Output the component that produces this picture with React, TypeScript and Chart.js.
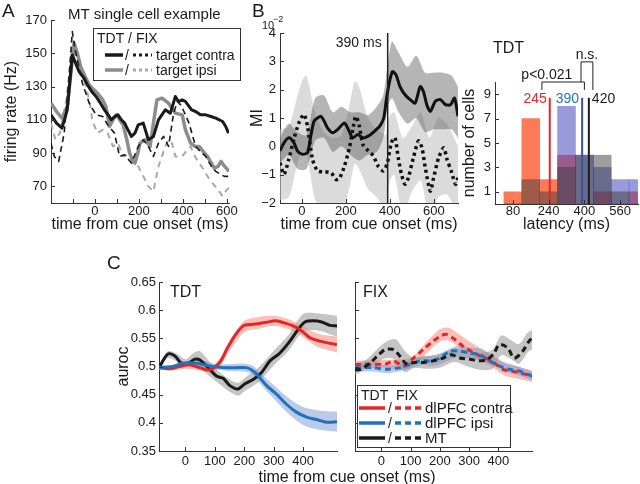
import React, { useEffect, useRef } from 'react';
import { Chart, registerables } from 'chart.js';
Chart.register(...registerables);

const FONT = '"Liberation Sans", Arial, Helvetica, sans-serif';
const TICK_SIZE = 13;
const TITLE_SIZE = 16;
const INK = '#1a1a1a';
const AXIS = '#333333';
const RED = '#e3262a';
const BLUE = '#1f73b8';
const GRAY_A = '#8c8c8c';
const GRAY_A_DASH = '#a8a8a8';

// ---------------- Panel A : MT single cell example ----------------
const aXTicks = [0, 200, 400, 600];
const aXMinor = [-100, 100, 300, 500];
const aYTicks = [70, 90, 110, 130, 150, 170];
const aLegendLabels = ['target contra', 'target ipsi'];

const aContraTdtT = [-200, -175, -150, -126, -103, -85, -72, -50, -34, -15, 5, 25, 43, 60, 74, 90, 105, 120, 135, 150, 166, 182, 197, 220, 243, 266, 289, 320, 343, 366, 380, 397, 412, 440, 458, 480, 504, 528, 550, 581, 595, 608];
const aContraTdtV = [113, 108, 105, 116, 149, 143, 139, 135, 131, 127, 124, 120, 116, 113, 110, 112, 113, 110, 108, 104, 100, 102, 107, 108, 98, 100, 110, 116, 114, 124, 121, 122, 121, 116, 115, 113, 113, 112, 111, 109, 106, 102];

const aIpsiTdtT = [-200, -175, -150, -126, -95, -80, -65, -45, -26, -5, 12, 35, 50, 66, 82, 97, 113, 128, 145, 158, 170, 182, 195, 205, 228, 251, 266, 282, 305, 335, 366, 397, 412, 435, 455, 474, 492, 512, 530, 543, 560, 574, 590, 604, 610];
const aIpsiTdtV = [120, 115, 111, 118, 156, 150, 142, 136, 131, 128, 126, 122, 118, 106, 110, 113, 110, 107, 98, 90, 86, 84, 90, 96, 98, 94, 108, 122, 123, 120, 114, 113, 104, 96, 94, 94, 91, 88, 84, 81, 82, 85, 82, 80, 79];

const aContraFixT = [-200, -185, -165, -140, -120, -103, -90, -57, -26, 5, 35, 58, 89, 112, 135, 166, 197, 220, 243, 266, 289, 312, 335, 358, 375, 390, 405, 428, 458, 480, 504, 530, 550, 575, 589, 610];
const aContraFixV = [96, 88, 85, 102, 132, 163, 152, 132, 120, 113, 112, 107, 102, 88, 89, 84, 94, 98, 94, 88, 96, 100, 94, 114, 121, 119, 115, 108, 94, 91, 88, 82, 79, 77, 76, 76];

const aIpsiFixT = [-200, -180, -160, -130, -105, -80, -49, -26, -11, 12, 35, 58, 82, 105, 128, 151, 174, 197, 220, 243, 266, 289, 320, 335, 350, 366, 397, 420, 435, 455, 474, 495, 512, 535, 560, 581, 600, 610];
const aIpsiFixV = [108, 98, 102, 122, 152, 147, 134, 122, 109, 102, 104, 102, 94, 96, 88, 89, 84, 82, 76, 70, 67, 82, 94, 98, 96, 88, 88, 92, 94, 88, 84, 80, 76, 72, 68, 64, 68, 69];

// ---------------- Panel B : MI ----------------
const bXTicks = [0, 200, 400, 600];
const bYTicks = [-2, -1, 0, 1, 2, 3, 4];
const bOnset = 390;

const bSolidT = [-100, -82, -60, -37, -21, 1, 25, 40, 55, 71, 86, 101, 116, 139, 163, 193, 208, 231, 254, 277, 301, 331, 354, 372, 384, 397, 412, 428, 446, 469, 492, 515, 538, 553, 568, 584, 607, 630, 653, 676, 694, 710];
const bSolidV = [-0.16, 0.12, 0.3, 0.13, -0.16, -0.28, -0.22, 0.36, 0.89, 1.0, 1.06, 0.89, 0.65, 0.48, 0.6, 0.82, 0.65, 0.3, 0.42, 0.3, 0.36, 0.54, 0.71, 1.0, 1.65, 2.23, 2.64, 2.52, 2.11, 1.82, 1.65, 1.53, 2.11, 1.93, 1.47, 1.23, 1.59, 1.65, 1.47, 1.47, 1.7, 1.06];

const bDotT = [-100, -82, -60, -37, -14, 9, 25, 48, 71, 94, 132, 155, 170, 193, 216, 234, 246, 261, 277, 301, 324, 347, 370, 388, 407, 423, 438, 453, 469, 484, 507, 530, 546, 561, 584, 599, 622, 645, 660, 679, 699, 710];
const bDotV = [-0.58, -0.99, -0.46, 0.25, 0.83, 1.13, 0.71, -0.46, -0.87, -0.9, -0.93, -1.17, -1.14, -0.7, -0.05, 0.71, 1.06, 0.71, 0.07, -0.16, -0.33, -0.7, -0.87, -0.6, 0.13, 0.31, -0.4, -0.99, -1.34, -1.11, -0.4, 0.19, -0.05, -0.75, -1.58, -1.11, -0.4, -0.05, -0.46, -0.87, -1.34, -1.11];

const bDarkT = [-100, -60, -20, 20, 60, 100, 140, 180, 220, 260, 300, 340, 370, 390, 410, 440, 480, 520, 560, 600, 640, 680, 710];
const bDarkHi = [0.3, 0.8, 0.5, 0.4, 1.7, 1.8, 1.2, 1.4, 1.2, 1.2, 1.1, 1.4, 1.8, 2.9, 3.7, 3.3, 2.8, 3.2, 2.6, 2.6, 2.6, 2.5, 2.1];
const bDarkLo = [-0.6, -0.3, -0.8, -0.8, 0.2, 0.3, -0.2, 0.0, -0.3, -0.5, -0.3, -0.2, 0.3, 1.4, 1.7, 1.2, 0.8, 1.0, 0.5, 0.6, 0.6, 0.6, 0.3];

const bLightT = [-100, -60, -20, 0, 20, 60, 100, 140, 180, 220, 240, 260, 300, 340, 380, 400, 420, 460, 500, 540, 580, 620, 660, 710];
const bLightHi = [0.6, 0.7, 1.8, 2.3, 2.5, 1.2, 0.5, 0.3, 0.4, 1.6, 2.3, 2.1, 1.0, 0.6, 0.4, 1.1, 1.2, 0.3, 0.7, 1.2, 0.3, 1.0, 0.8, 0.0];
const bLightLo = [-1.9, -1.8, -0.6, -0.2, -0.2, -1.9, -2.3, -2.4, -2.4, -1.3, -0.6, -0.8, -1.5, -1.8, -2.2, -1.2, -1.0, -2.4, -1.6, -1.2, -2.5, -1.8, -1.7, -2.4];

// ---------------- Panel B : latency histogram ----------------
const hXTicks = [80, 240, 400, 560];
const hYTicks = [1, 3, 5, 7, 9];
const hBins = [80, 160, 240, 320, 400, 480, 560, 640];
const hRed = [1, 7, 2, 4, 0, 1, 0, 1];
const hBlue = [0, 0, 0, 8, 4, 3, 2, 2];
const hGray = [0, 2, 1, 3, 4, 4, 1, 0];
const hLatencies = [245, 390, 420];
const hLatencyLabels = ['245', '390', '420'];

// ---------------- Panel C : auroc ----------------
const cXTicks = [0, 100, 200, 300, 400];
const cYTicks = [0.35, 0.4, 0.45, 0.5, 0.55, 0.6, 0.65];
const cLegendLabels = ['dlPFC contra', 'dlPFC ipsi', 'MT'];

const cTdtRedT = [-90, -55, -21, 14, 48, 82, 116, 144, 167, 196, 230, 270, 309, 338, 366, 395, 423, 457, 491, 515];
const cTdtRedV = [0.498, 0.496, 0.5, 0.503, 0.498, 0.494, 0.507, 0.534, 0.554, 0.572, 0.575, 0.578, 0.581, 0.577, 0.572, 0.563, 0.551, 0.545, 0.541, 0.539];
const cTdtBlackT = [-90, -60, -37, -14, 9, 32, 48, 77, 105, 128, 151, 178, 201, 230, 258, 287, 321, 355, 383, 406, 434, 463, 491, 515];
const cTdtBlackV = [0.498, 0.522, 0.519, 0.506, 0.506, 0.513, 0.512, 0.498, 0.483, 0.479, 0.466, 0.46, 0.469, 0.477, 0.489, 0.51, 0.524, 0.545, 0.566, 0.579, 0.581, 0.579, 0.573, 0.572];
const cTdtBlueT = [-90, -43, -9, 36, 82, 128, 173, 207, 230, 253, 276, 309, 343, 377, 412, 446, 480, 515];
const cTdtBlueV = [0.498, 0.5, 0.506, 0.506, 0.501, 0.498, 0.498, 0.498, 0.492, 0.48, 0.466, 0.451, 0.433, 0.419, 0.41, 0.406, 0.401, 0.402];

const cTdtRedBandT = [-90, -40, 0, 50, 100, 150, 200, 250, 300, 350, 400, 450, 515];
const cTdtRedHi = [0.502, 0.501, 0.506, 0.505, 0.504, 0.546, 0.581, 0.588, 0.59, 0.584, 0.572, 0.558, 0.553];
const cTdtRedLo = [0.494, 0.493, 0.496, 0.493, 0.49, 0.528, 0.561, 0.567, 0.572, 0.566, 0.552, 0.534, 0.525];
const cTdtBlackBandT = [-90, -60, -30, 0, 30, 50, 100, 150, 180, 200, 250, 300, 350, 400, 450, 515];
const cTdtBlackHi = [0.503, 0.527, 0.523, 0.513, 0.525, 0.527, 0.497, 0.477, 0.471, 0.479, 0.499, 0.528, 0.556, 0.593, 0.594, 0.59];
const cTdtBlackLo = [0.493, 0.515, 0.509, 0.499, 0.501, 0.496, 0.475, 0.455, 0.448, 0.456, 0.473, 0.502, 0.528, 0.562, 0.564, 0.553];
const cTdtBlueBandT = [-90, -40, 0, 50, 100, 150, 200, 230, 260, 300, 350, 400, 450, 515];
const cTdtBlueHi = [0.501, 0.503, 0.509, 0.511, 0.505, 0.504, 0.505, 0.501, 0.486, 0.467, 0.444, 0.428, 0.422, 0.42];
const cTdtBlueLo = [0.495, 0.497, 0.501, 0.501, 0.495, 0.492, 0.491, 0.485, 0.466, 0.443, 0.416, 0.396, 0.388, 0.384];

const cFixRedT = [-90, -71, -26, 19, 42, 76, 110, 143, 177, 206, 223, 251, 279, 307, 336, 364, 392, 415, 443, 471, 494, 515];
const cFixRedV = [0.503, 0.504, 0.504, 0.505, 0.51, 0.501, 0.515, 0.53, 0.545, 0.555, 0.557, 0.548, 0.536, 0.527, 0.519, 0.513, 0.504, 0.495, 0.492, 0.489, 0.486, 0.483];
const cFixBlueT = [-90, -26, 19, 64, 98, 132, 166, 200, 234, 268, 302, 336, 370, 403, 437, 471, 515];
const cFixBlueV = [0.498, 0.498, 0.495, 0.498, 0.504, 0.51, 0.51, 0.515, 0.527, 0.527, 0.524, 0.521, 0.51, 0.501, 0.495, 0.492, 0.483];
const cFixBlackT = [-90, -71, -37, -9, 14, 42, 64, 87, 110, 143, 177, 211, 240, 268, 302, 336, 364, 386, 403, 432, 454, 483, 505, 515];
const cFixBlackV = [0.494, 0.495, 0.507, 0.521, 0.53, 0.53, 0.518, 0.504, 0.507, 0.507, 0.51, 0.515, 0.521, 0.515, 0.513, 0.51, 0.513, 0.524, 0.539, 0.533, 0.515, 0.527, 0.545, 0.55];

const cFixRedBandT = [-90, -30, 20, 60, 100, 150, 200, 230, 270, 320, 370, 420, 470, 515];
const cFixRedHi = [0.51, 0.511, 0.512, 0.512, 0.515, 0.541, 0.566, 0.569, 0.556, 0.538, 0.524, 0.506, 0.499, 0.493];
const cFixRedLo = [0.496, 0.497, 0.498, 0.494, 0.497, 0.521, 0.544, 0.546, 0.532, 0.514, 0.502, 0.484, 0.478, 0.473];
const cFixBlueBandT = [-90, -30, 20, 60, 100, 140, 180, 220, 260, 300, 340, 380, 420, 470, 515];
const cFixBlueHi = [0.505, 0.505, 0.502, 0.505, 0.511, 0.518, 0.519, 0.528, 0.537, 0.534, 0.531, 0.518, 0.508, 0.5, 0.491];
const cFixBlueLo = [0.491, 0.491, 0.488, 0.491, 0.497, 0.502, 0.501, 0.508, 0.517, 0.514, 0.511, 0.502, 0.492, 0.484, 0.475];
const cFixBlackBandT = [-90, -50, -10, 20, 50, 80, 110, 150, 200, 250, 300, 340, 380, 410, 440, 470, 500, 515];
const cFixBlackHi = [0.503, 0.513, 0.533, 0.545, 0.548, 0.528, 0.516, 0.518, 0.522, 0.532, 0.527, 0.524, 0.53, 0.555, 0.548, 0.54, 0.56, 0.565];
const cFixBlackLo = [0.485, 0.497, 0.509, 0.515, 0.512, 0.49, 0.497, 0.496, 0.498, 0.508, 0.499, 0.494, 0.496, 0.52, 0.514, 0.505, 0.525, 0.53];

// ---------------- helpers ----------------
const pts = (xs: number[], ys: number[]) => xs.map((x, i) => ({ x, y: ys[i] }));
const fmt = (v: number) => (v < 0 ? '\u2212' + Math.abs(v) : String(v));

function drawText(ctx: any, s: string, x: number, y: number, size: number, color = INK, align = 'left') {
  ctx.save();
  ctx.font = `${size}px ${FONT}`;
  ctx.fillStyle = color;
  ctx.textAlign = align;
  ctx.textBaseline = 'alphabetic';
  ctx.fillText(s, x, y);
  ctx.restore();
}
function drawSeg(ctx: any, x1: number, y1: number, x2: number, y2: number, color: string, width: number, dash: number[] = []) {
  ctx.save();
  ctx.strokeStyle = color;
  ctx.lineWidth = width;
  ctx.setLineDash(dash);
  ctx.lineCap = 'butt';
  ctx.beginPath();
  ctx.moveTo(x1, y1);
  ctx.lineTo(x2, y2);
  ctx.stroke();
  ctx.restore();
}
function drawPath(ctx: any, p: number[][], color: string, width: number) {
  ctx.save();
  ctx.strokeStyle = color;
  ctx.lineWidth = width;
  ctx.beginPath();
  p.forEach(([x, y], i) => (i ? ctx.lineTo(x, y) : ctx.moveTo(x, y)));
  ctx.stroke();
  ctx.restore();
}

function xScale(min: number, max: number, ticks: number[], o: any) {
  return {
    type: 'linear', min, max, offset: false,
    grid: { display: false, drawTicks: false },
    border: { display: true, color: AXIS, width: 1 },
    afterBuildTicks: (s: any) => { s.ticks = ticks.map((v) => ({ value: v })); },
    afterFit: (s: any) => { s.height = o.height; s.paddingLeft = 0; s.paddingRight = 0; },
    ticks: { display: o.labels !== false, color: INK, padding: o.pad, autoSkip: false, maxRotation: 0, font: { family: FONT, size: TICK_SIZE }, callback: (v: any) => fmt(v) },
    title: { display: !!o.title, text: o.title || '', color: INK, font: { family: FONT, size: TITLE_SIZE }, padding: { top: 0, bottom: o.titlePad || 0 } },
  };
}
function yScale(min: number, max: number, ticks: number[], o: any) {
  return {
    type: 'linear', min, max,
    grid: { display: false, drawTicks: false },
    border: { display: true, color: AXIS, width: 1 },
    afterBuildTicks: (s: any) => { s.ticks = ticks.map((v) => ({ value: v })); },
    afterFit: (s: any) => { s.width = o.width; s.paddingTop = 0; s.paddingBottom = 0; },
    ticks: { display: o.labels !== false, color: INK, padding: o.pad || 3, autoSkip: false, font: { family: FONT, size: TICK_SIZE }, callback: (v: any) => fmt(v) },
    title: { display: !!o.title, text: o.title || '', color: INK, font: { family: FONT, size: TITLE_SIZE }, padding: { top: o.titlePad || 0, bottom: 0 } },
  };
}

const inwardTicks = {
  id: 'inwardTicks',
  afterDraw(chart: any, _a: any, opts: any) {
    const { ctx, chartArea } = chart;
    const xs = chart.scales.x;
    const ys = chart.scales.y;
    const len = 4;
    ctx.save();
    ctx.strokeStyle = AXIS;
    ctx.lineWidth = 1;
    const xv = [...xs.ticks.map((t: any) => t.value), ...((opts && opts.xMinor) || [])];
    xv.forEach((v: number) => {
      const p = Math.round(xs.getPixelForValue(v)) + 0.5;
      ctx.beginPath(); ctx.moveTo(p, chartArea.bottom); ctx.lineTo(p, chartArea.bottom - len); ctx.stroke();
    });
    ys.ticks.forEach((t: any) => {
      const p = Math.round(ys.getPixelForValue(t.value)) + 0.5;
      ctx.beginPath(); ctx.moveTo(chartArea.left, p); ctx.lineTo(chartArea.left + len, p); ctx.stroke();
    });
    ctx.restore();
  },
};

const baseOptions = (padding: any) => ({
  responsive: false,
  animation: false,
  devicePixelRatio: 1,
  events: [],
  layout: { padding },
  elements: { point: { radius: 0 }, line: { tension: 0, borderCapStyle: 'butt', borderJoinStyle: 'round' } },
});

const line = (data: any, color: string, width: number, dash: number[] = [], tension = 0) => ({
  type: 'line', data, borderColor: color, borderWidth: width, borderDash: dash, pointRadius: 0, fill: false, tension,
});
const bandPair = (t: number[], hi: number[], lo: number[], color: string, tension = 0) => [
  { type: 'line', data: pts(t, hi), borderWidth: 0, borderColor: 'rgba(0,0,0,0)', pointRadius: 0, fill: '+1', backgroundColor: color, tension },
  { type: 'line', data: pts(t, lo), borderWidth: 0, borderColor: 'rgba(0,0,0,0)', pointRadius: 0, fill: false, tension },
];

// ---------------- chart configs ----------------
function configA() {
  return {
    type: 'line',
    data: {
      datasets: [
        line(pts(aContraTdtT, aContraTdtV), INK, 3),
        line(pts(aContraFixT, aContraFixV), INK, 1.6, [6, 4]),
        line(pts(aIpsiTdtT, aIpsiTdtV), GRAY_A, 3.5),
        line(pts(aIpsiFixT, aIpsiFixV), GRAY_A_DASH, 2, [6, 5]),
      ],
    },
    options: {
      ...baseOptions({ left: 0, top: 20, right: 16, bottom: 0 }),
      plugins: { legend: { display: false }, tooltip: { enabled: false }, inwardTicks: { xMinor: aXMinor } },
      scales: {
        x: xScale(-200, 610, aXTicks, { height: 37, pad: 1, title: 'time from cue onset (ms)', titlePad: 5.4 }),
        y: yScale(60, 170, aYTicks, { width: 51, pad: 4, title: 'firing rate (Hz)', titlePad: 2.4 }),
      },
    },
    plugins: [
      inwardTicks,
      {
        id: 'decoA',
        afterDraw(chart: any) {
          const ctx = chart.ctx;
          drawText(ctx, 'A', 2, 17, 19);
          drawText(ctx, 'MT single cell example', 68, 19, 15);
          ctx.save();
          ctx.fillStyle = '#fff';
          ctx.fillRect(93.5, 28.5, 147, 52);
          ctx.strokeStyle = AXIS;
          ctx.lineWidth = 1;
          ctx.strokeRect(93.5, 28.5, 147, 52);
          ctx.restore();
          drawText(ctx, 'TDT / FIX', 97, 43, 14);
          drawSeg(ctx, 105, 55, 123, 55, INK, 3.5);
          drawText(ctx, '/', 125, 60, 14);
          drawSeg(ctx, 133, 55, 152, 55, INK, 3, [3, 3]);
          drawText(ctx, aLegendLabels[0], 156, 60, 14);
          drawSeg(ctx, 105, 70, 123, 70, GRAY_A, 3.5);
          drawText(ctx, '/', 125, 75, 14);
          drawSeg(ctx, 133, 70, 152, 70, GRAY_A_DASH, 3, [3, 3]);
          drawText(ctx, aLegendLabels[1], 156, 75, 14);
        },
      },
    ],
  };
}

function configB() {
  return {
    type: 'line',
    data: {
      datasets: [
        line([{ x: bOnset, y: -2 }, { x: bOnset, y: 4 }], '#222', 1.5),
        line(pts(bSolidT, bSolidV), '#111', 3, [], 0.25),
        line(pts(bDotT, bDotV), '#111', 3.5, [3, 3.5], 0.25),
        ...bandPair(bDarkT, bDarkHi, bDarkLo, 'rgba(90,90,90,0.45)', 0.25),
        ...bandPair(bLightT, bLightHi, bLightLo, 'rgba(195,195,195,0.6)', 0.25),
      ],
    },
    options: {
      ...baseOptions({ left: 0, top: 33, right: 7, bottom: 0 }),
      plugins: { legend: { display: false }, tooltip: { enabled: false } },
      scales: {
        x: xScale(-100, 710, bXTicks, { height: 37, pad: 1, title: 'time from cue onset (ms)', titlePad: 5.4 }),
        y: yScale(-2, 4, bYTicks, { width: 40, pad: 4, title: 'MI', titlePad: 8.4 }),
      },
    },
    plugins: [
      inwardTicks,
      {
        id: 'decoB',
        afterDraw(chart: any) {
          const ctx = chart.ctx;
          const xs = chart.scales.x;
          drawText(ctx, 'B', 12, 17, 19);
          drawText(ctx, '10', 22, 29, 11);
          drawText(ctx, '\u22122', 33, 22, 9);
          drawText(ctx, `${bOnset} ms`, xs.getPixelForValue(bOnset) - 6, 47, 14, INK, 'right');
        },
      },
    ],
  };
}

function configHist() {
  const latColors = [RED, '#3a4fa0', INK];
  return {
    type: 'bar',
    data: {
      datasets: [
        ...hLatencies.map((v, i) => ({
          type: 'line', data: [{ x: v, y: 0 }, { x: v, y: 8.7 }], borderColor: latColors[i], borderWidth: 2, pointRadius: 0, fill: false,
        })),
        { type: 'bar', data: pts(hBins, hGray), backgroundColor: 'rgba(60,60,60,0.5)', borderWidth: 0 },
        { type: 'bar', data: pts(hBins, hBlue), backgroundColor: 'rgba(70,70,190,0.55)', borderWidth: 0 },
        { type: 'bar', data: pts(hBins, hRed), backgroundColor: 'rgba(255,85,40,0.78)', borderWidth: 0 },
      ],
    },
    options: {
      ...baseOptions({ left: 0, top: 82, right: 2, bottom: 0 }),
      datasets: { bar: { grouped: false, barPercentage: 1, categoryPercentage: 1 } },
      plugins: { legend: { display: false }, tooltip: { enabled: false } },
      scales: {
        x: xScale(0, 640, hXTicks, { height: 36, pad: 0, title: 'latency (ms)', titlePad: 5.4 }),
        y: yScale(0, 10, hYTicks, { width: 40, pad: 4, title: 'number of cells', titlePad: 5.4 }),
      },
    },
    plugins: [
      inwardTicks,
      {
        id: 'decoHist',
        afterDraw(chart: any) {
          const ctx = chart.ctx;
          const xs = chart.scales.x;
          const ys = chart.scales.y;
          drawText(ctx, 'TDT', 38, 53, 16);
          const ly = ys.getPixelForValue(8.7) + 5;
          drawText(ctx, hLatencyLabels[0], xs.getPixelForValue(hLatencies[0]) - 3, ly, 14, RED, 'right');
          drawText(ctx, hLatencyLabels[1], xs.getPixelForValue(hLatencies[1]) - 3, ly, 14, BLUE, 'right');
          drawText(ctx, hLatencyLabels[2], xs.getPixelForValue(hLatencies[2]) + 3, ly, 14, INK, 'left');
          const pL = xs.getPixelForValue(210), pR = xs.getPixelForValue(400);
          const pY = ys.getPixelForValue(10), pLeg = ys.getPixelForValue(9.35);
          drawPath(ctx, [[pL, pLeg], [pL, pY], [pR, pY], [pR, pLeg]], '#222', 1);
          drawText(ctx, 'p<0.021', xs.getPixelForValue(232), pY - 3, 14, INK, 'center');
          const nL = xs.getPixelForValue(385), nR = xs.getPixelForValue(438);
          const nY = ys.getPixelForValue(11.65);
          drawPath(ctx, [[nL, pY], [nL, nY], [nR, nY], [nR, pLeg]], '#222', 1);
          drawText(ctx, 'n.s.', (nL + nR) / 2, nY - 3, 14, INK, 'center');
        },
      },
    ],
  };
}

function configCTdt() {
  const T = 0.3;
  return {
    type: 'line',
    data: {
      datasets: [
        line(pts(cTdtBlueT, cTdtBlueV), BLUE, 3, [], T),
        line(pts(cTdtRedT, cTdtRedV), RED, 3, [], T),
        line(pts(cTdtBlackT, cTdtBlackV), INK, 3, [], T),
        ...bandPair(cTdtBlueBandT, cTdtBlueHi, cTdtBlueLo, 'rgba(120,150,215,0.5)', T),
        ...bandPair(cTdtRedBandT, cTdtRedHi, cTdtRedLo, 'rgba(245,140,120,0.55)', T),
        ...bandPair(cTdtBlackBandT, cTdtBlackHi, cTdtBlackLo, 'rgba(150,150,150,0.55)', T),
      ],
    },
    options: {
      ...baseOptions({ left: 0, top: 52, right: 133, bottom: 0 }),
      plugins: { legend: { display: false }, tooltip: { enabled: false } },
      scales: {
        x: xScale(-90, 515, cXTicks, { height: 33, pad: 3 }),
        y: yScale(0.35, 0.65, cYTicks, { width: 59, pad: 3, title: 'auroc', titlePad: 14.4 }),
      },
    },
    plugins: [
      inwardTicks,
      {
        id: 'decoCT',
        afterDraw(chart: any) {
          const ctx = chart.ctx;
          drawText(ctx, 'C', 7, 39, 19);
          drawText(ctx, 'TDT', 70, 67, 16);
          drawText(ctx, 'time from cue onset (ms)', 247, 252, TITLE_SIZE, INK, 'center');
        },
      },
    ],
  };
}

function configCFix() {
  const T = 0.3;
  const D = [6, 4];
  return {
    type: 'line',
    data: {
      datasets: [
        line(pts(cFixBlackT, cFixBlackV), INK, 3, D, T),
        line(pts(cFixBlueT, cFixBlueV), BLUE, 3, D, T),
        line(pts(cFixRedT, cFixRedV), RED, 3, D, T),
        ...bandPair(cFixBlackBandT, cFixBlackHi, cFixBlackLo, 'rgba(150,150,150,0.55)', T),
        ...bandPair(cFixBlueBandT, cFixBlueHi, cFixBlueLo, 'rgba(120,150,215,0.5)', T),
        ...bandPair(cFixRedBandT, cFixRedHi, cFixRedLo, 'rgba(245,140,120,0.55)', T),
      ],
    },
    options: {
      ...baseOptions({ left: 0, top: 52, right: 108, bottom: 0 }),
      plugins: { legend: { display: false }, tooltip: { enabled: false } },
      scales: {
        x: xScale(-90, 515, cXTicks, { height: 33, pad: 3 }),
        y: yScale(0.35, 0.65, cYTicks, { width: 15, pad: 3, labels: false }),
      },
    },
    plugins: [
      inwardTicks,
      {
        id: 'decoCF',
        afterDraw(chart: any) {
          const ctx = chart.ctx;
          drawText(ctx, 'FIX', 23, 67, 16);
          ctx.save();
          ctx.fillStyle = '#fff';
          ctx.fillRect(17.5, 155.5, 153, 62);
          ctx.strokeStyle = AXIS;
          ctx.lineWidth = 1;
          ctx.strokeRect(17.5, 155.5, 153, 62);
          ctx.restore();
          drawText(ctx, 'TDT', 21, 170, 14);
          drawText(ctx, 'FIX', 56, 170, 14);
          const colors = [RED, BLUE, INK];
          [178, 193, 208].forEach((y, i) => {
            drawSeg(ctx, 19, y, 45, y, colors[i], 3.5);
            drawText(ctx, '/', 48, y + 5, 14);
            drawSeg(ctx, 55, y, 81, y, colors[i], 3.5, [6, 4]);
            drawText(ctx, cLegendLabels[i], 85, y + 5, 15);
          });
        },
      },
    ],
  };
}

function ChartBox({ left, top, width, height, make }: any) {
  const ref = useRef<HTMLCanvasElement>(null);
  useEffect(() => {
    const chart = new Chart(ref.current as any, make() as any);
    return () => chart.destroy();
  }, []);
  return <canvas ref={ref} width={width} height={height} style={{ position: 'absolute', left, top, width, height }} />;
}

export default function App() {
  return (
    <div style={{ position: 'fixed', left: 0, top: 0, width: 640, height: 484, background: '#fff', overflow: 'hidden' }}>
      <ChartBox left={0} top={0} width={245} height={240} make={configA} />
      <ChartBox left={240} top={0} width={225} height={240} make={configB} />
      <ChartBox left={455} top={0} width={185} height={240} make={configHist} />
      <ChartBox left={100} top={230} width={370} height={254} make={configCTdt} />
      <ChartBox left={340} top={230} width={300} height={254} make={configCFix} />
    </div>
  );
}
